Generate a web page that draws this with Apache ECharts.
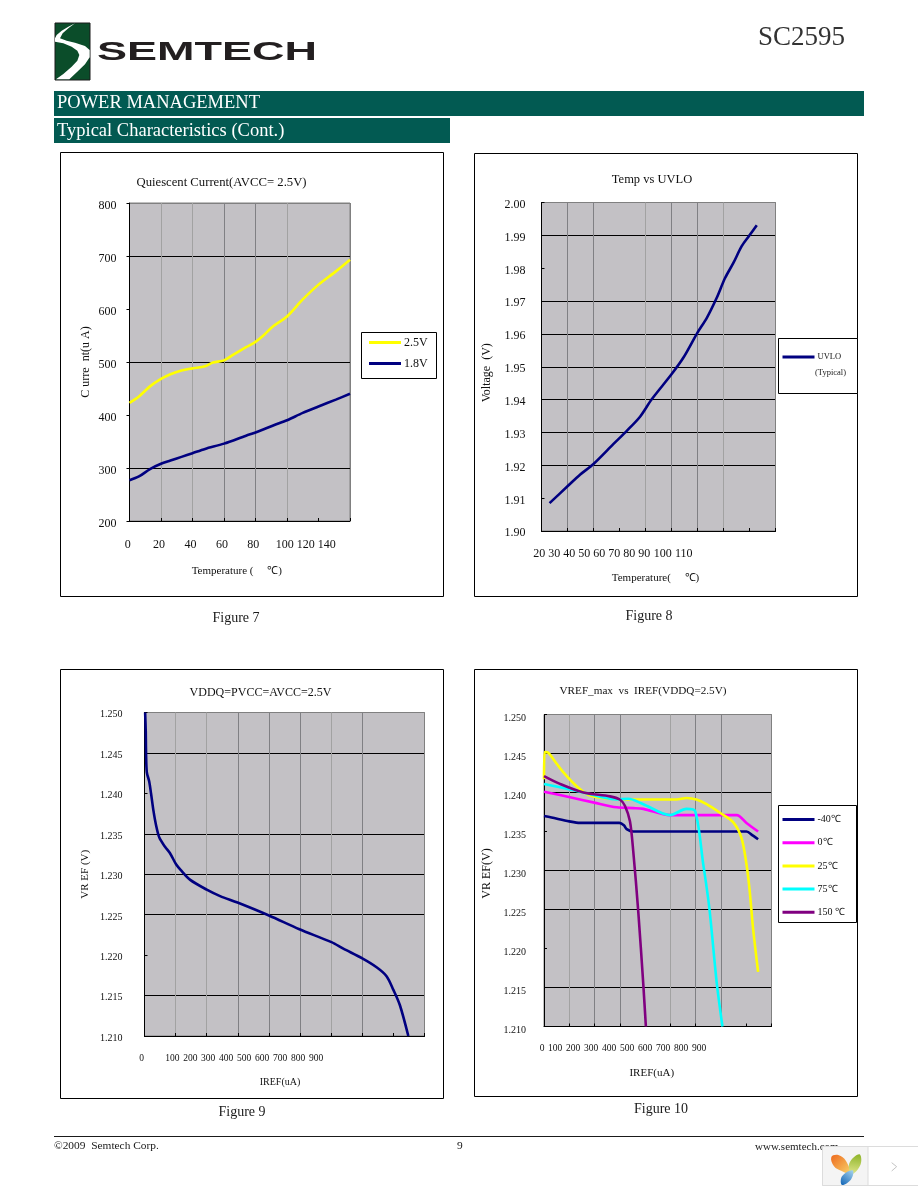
<!DOCTYPE html>
<html><head><meta charset="utf-8">
<style>html,body{margin:0;padding:0;background:#fff}#c{width:918px;height:1188px}</style>
<script src="https://cdn.jsdelivr.net/npm/echarts@6/dist/echarts.min.js"></script>
</head><body><div id="c"></div>
<script>
// ---- Figure 7 ----
const fig7Labels = ['0','20','40','60','80','100'];
const fig7LabelsTail = ['120','140'];
const fig7Yellow = [[0,423],[6,435],[13,454],[20,468],[26,477],[33,484],[40,488],[48,492],[53,499],[60,503],[66,514],[74,528],[80,538],[85,550],[91,567],[100,586],[110,618],[120,646],[131,671],[140,693]];
const fig7Navy = [[0,277],[6,284],[13,298],[20,308],[26,314],[33,321],[40,328],[48,336],[60,346],[74,361],[80,367],[92,381],[100,390],[110,404],[120,416],[131,429],[140,440]];
// ---- Figure 8 ----
const fig8Labels = ['20','30','40','50','60','70','80','90'];
const fig8LabelsTail = ['100','110'];
const fig8Uvlo = [[23.1,1.9085],[30,1.9136],[34.9,1.9172],[40,1.9204],[47.7,1.9265],[52.8,1.9305],[57.9,1.9348],[62.4,1.9401],[70,1.9477],[74.6,1.9528],[80,1.9604],[83.6,1.9649],[87.4,1.971],[90.6,1.977],[93.8,1.9816],[97,1.9867],[100,1.99],[102.8,1.9931]];
// ---- Figure 9 ----
const fig9LabelZero = ['0'];
const fig9Labels = ['100','200','300','400','500','600','700','800','900'];
const fig9Vref = [[2,1.25],[4,1.2477],[5,1.245],[7.5,1.2426],[15,1.2415],[21,1.24],[29,1.2378],[37,1.2361],[48,1.2345],[66,1.2334],[82,1.2326],[102,1.2312],[117,1.2305],[147,1.2293],[200,1.2281],[243,1.2273],[299,1.2265],[400,1.2249],[498,1.2232],[601,1.2216],[639,1.2208],[700,1.2196],[746,1.2185],[778,1.2174],[800,1.2157],[821,1.2138],[848,1.21]];
// ---- Figure 10 ----
const fig10LabelZero = ['0'];
const fig10Labels = ['100','200','300','400','500','600','700','800','900'];
const fig10M40 = [[0,1.237],[30,1.2368],[100,1.2363],[142,1.2361],[298,1.2361],[316,1.2358],[327,1.2353],[353,1.235],[801,1.235],[825,1.2345],[847,1.234]];
const fig10C0 = [[0,1.2401],[103,1.2394],[199,1.2387],[288,1.2381],[353,1.238],[393,1.2379],[498,1.2371],[551,1.2371],[762,1.2371],[801,1.2361],[847,1.235]];
const fig10C25 = [[0,1.2417],[2,1.2452],[17,1.2451],[43,1.244],[76,1.2426],[129,1.2408],[182,1.2396],[261,1.2392],[340,1.2391],[524,1.2391],[564,1.2393],[603,1.2391],[643,1.2385],[696,1.2374],[748,1.2362],[781,1.2342],[801,1.2308],[814,1.2273],[827,1.2226],[847,1.217]];
const fig10C75 = [[0,1.2411],[103,1.2404],[156,1.24],[287,1.2391],[333,1.2392],[393,1.2385],[498,1.2371],[564,1.2379],[598,1.2376],[630,1.2308],[654,1.2252],[683,1.2157],[706,1.21]];
const fig10C150 = [[0,1.2421],[63,1.2411],[156,1.24],[261,1.2395],[300,1.2391],[320,1.2383],[340,1.2363],[353,1.2325],[373,1.2247],[393,1.2153],[403,1.21]];

const SERIF = '"Liberation Serif","Times New Roman",serif';
const INK = '#111';
const BLACK = '#000', NONE = 'transparent', EDGE = '#808080', LIGHT = '#a2a2a2', DARK = '#808084';
const PLOT = '#c3c1c5';

const grids = [], xAxes = [], yAxes = [], series = [], titles = [], legends = [];

function labelAxis(labels, x0, x1, y, size) {
  const single = labels.length === 1;
  const g = grids.length;
  grids.push(single ? {left:x0-10, width:20, top:y, height:1} : {left:x0, width:x1-x0, top:y, height:1});
  xAxes.push({type:'category', gridIndex:g, data:labels, boundaryGap:single,
    axisLine:{show:false}, axisTick:{show:false}, splitLine:{show:false},
    axisLabel:{interval:0, margin:0, verticalAlign:'middle', hideOverlap:false, showMinLabel:true, showMaxLabel:true,
      fontFamily:SERIF, fontSize:size, color:INK}});
  yAxes.push({type:'value', gridIndex:g, show:false, min:0, max:1});
}

function plot(o) {
  const g = grids.length;
  grids.push({left:o.l, top:o.t, width:o.r-o.l, height:o.b-o.t, show:true, backgroundColor:PLOT, borderColor:EDGE, borderWidth:1});
  xAxes.push({type:'value', gridIndex:g, min:o.x[0], max:o.x[1], interval:o.x[2],
    axisLine:{onZero:false, lineStyle:{color:BLACK}},
    axisTick:{inside:true, length:3, lineStyle:{color:BLACK}},
    axisLabel:{show:false},
    splitLine:{show:true, lineStyle:{color:o.vc, width:1}},
    name:o.xName, nameLocation:'middle', nameGap:o.xGap,
    nameTextStyle:{fontFamily:SERIF, fontSize:o.xNameSize, color:INK, padding:o.xPad||0}});
  yAxes.push({type:'value', gridIndex:g, min:o.y[0], max:o.y[1], interval:o.y[2],
    axisLine:{onZero:false, lineStyle:{color:BLACK}},
    axisTick:{inside:!o.yOut, length:3, lineStyle:{color:BLACK}},
    axisLabel:{margin:o.yMargin, fontFamily:SERIF, fontSize:o.ySize, color:INK, verticalAlign:'top', lineHeight:o.yLH,
      formatter:v=>v.toFixed(o.y[3]), showMinLabel:true, showMaxLabel:true},
    splitLine:{show:true, lineStyle:{color:o.hc, width:1}},
    name:o.yName, nameLocation:'middle', nameGap:o.yGap, nameRotate:90,
    nameTextStyle:{fontFamily:SERIF, fontSize:o.yNameSize, color:INK, padding:o.yPad||0}});
  o.lines.forEach(s=>series.push({type:'line', name:s.name, xAxisIndex:g, yAxisIndex:g, data:s.data,
    showSymbol:false, smooth:0.3, clip:false, color:s.color,
    lineStyle:{color:s.color, width:2.6}, itemStyle:{color:s.color}, silent:true, animation:false}));
  titles.push({text:o.title, left:o.titleX, top:o.titleY, textAlign:'center', textVerticalAlign:'middle',
    padding:0, textStyle:{fontFamily:SERIF, fontSize:o.titleSize, fontWeight:'normal', color:INK}});
}

plot({l:129.5,r:350,t:203,b:521, x:[0,140,20], y:[200,800,100,0],
  vc:[NONE,LIGHT,LIGHT,DARK,DARK,LIGHT,NONE,EDGE], hc:[BLACK,BLACK,NONE,BLACK,NONE,BLACK,EDGE],
  yOut:true, yMargin:13, ySize:12, yLH:5, xNameSize:11, yNameSize:12, xName:'Temperature (     ℃)', xGap:45, xPad:[0,6,0,0],
  yName:'C urre  nt(u A)', yGap:38,
  title:'Quiescent Current(AVCC= 2.5V)', titleSize:12.7, titleX:221.5, titleY:182.5,
  lines:[{name:'2.5V',data:fig7Yellow,color:'#ffff00'},{name:'1.8V',data:fig7Navy,color:'#000080'}]});
labelAxis(fig7Labels,127.7,284.7,543.5,12);
labelAxis(fig7LabelsTail,305.7,326.7,543.5,12);

plot({l:541.5,r:775.5,t:202.5,b:531, x:[20,110,10], y:[1.9,2.0,0.01,2],
  vc:[NONE,DARK,DARK,NONE,LIGHT,DARK,DARK,LIGHT,NONE,EDGE], hc:[BLACK,NONE,BLACK,BLACK,BLACK,BLACK,BLACK,BLACK,NONE,BLACK,EDGE],
  yMargin:16, ySize:12, yLH:4.5, xNameSize:11, yNameSize:12, xName:'Temperature(     ℃)', xGap:42, xPad:[0,6,0,0],
  yName:'Voltage  (V)', yGap:49, yPad:[0,12,0,0],
  title:'Temp vs UVLO', titleSize:12.5, titleX:652, titleY:179.5,
  lines:[{name:'UVLO',data:fig8Uvlo,color:'#000080'}]});
labelAxis(fig8Labels,539.3,644.3,552.5,12);
labelAxis(fig8LabelsTail,662.7,683.7,552.5,12);

plot({l:144.5,r:424.5,t:712.5,b:1036, x:[0,900,100], y:[1.21,1.25,0.005,3],
  vc:[NONE,LIGHT,LIGHT,DARK,DARK,DARK,LIGHT,DARK,NONE,EDGE], hc:[BLACK,BLACK,NONE,BLACK,BLACK,BLACK,NONE,BLACK,EDGE],
  yMargin:22, ySize:10, yLH:4.5, xNameSize:10, yNameSize:11, xName:'IREF(uA)', xGap:41, xPad:[0,9,0,0],
  yName:'VR EF (V)', yGap:54,
  title:'VDDQ=PVCC=AVCC=2.5V', titleSize:12, titleX:260.5, titleY:693,
  lines:[{name:'VREF',data:fig9Vref,color:'#000080'}]});
labelAxis(fig9LabelZero,141.7,141.7,1057,9.5);
labelAxis(fig9Labels,172.3,316,1057,9.5);

plot({l:544,r:771.5,t:714.5,b:1026.5, x:[0,900,100], y:[1.21,1.25,0.005,3],
  vc:[NONE,LIGHT,DARK,DARK,NONE,LIGHT,DARK,DARK,NONE,EDGE], hc:[BLACK,BLACK,NONE,BLACK,BLACK,NONE,BLACK,BLACK,EDGE],
  yMargin:18, ySize:10, yLH:7, xNameSize:11, yNameSize:12, xName:'IREF(uA)', xGap:41.5, xPad:[0,12,0,0],
  yName:'VR EF(V)', yGap:51, yPad:[0,6,0,0],
  title:'VREF_max  vs  IREF(VDDQ=2.5V)', titleSize:11.2, titleX:643, titleY:691,
  lines:[{name:'-40℃',data:fig10M40,color:'#000080'},{name:'0℃',data:fig10C0,color:'#ff00ff'},
         {name:'25℃',data:fig10C25,color:'#ffff00'},{name:'75℃',data:fig10C75,color:'#00ffff'},
         {name:'150 ℃',data:fig10C150,color:'#800080'}]});
labelAxis(fig10LabelZero,542,542,1047,9.5);
labelAxis(fig10Labels,555,699,1047,9.5);

function legendBox(names, left, top, pad, gap, size) {
  legends.push({data:names, orient:'vertical', left:left, top:top, align:'left',
    padding:pad, itemGap:gap,
    itemWidth:32, itemHeight:3, icon:'rect', selectedMode:false,
    textStyle:{fontFamily:SERIF, fontSize:size, color:INK, padding:[0,0,0,-2]}});
}
legendBox(['2.5V','1.8V'],361.5,332.5,[4,0,4,7.5],9,12);
legendBox(['UVLO'],778.5,338.5,[14,0,30,4],6,8.5);
legendBox(['-40℃','0℃','25℃','75℃','150 ℃'],778.5,805.5,[9,0,8,4],13.2,10);

const frame = (x0,y0,x1,y1)=>({type:'rect', shape:{x:x0,y:y0,width:x1-x0,height:y1-y0}, z:-10, style:{fill:'#fff',stroke:'#000',lineWidth:1}});
const txt = (t,x,y,size,extra)=>({type:'text', x:x, y:y, z:5, style:Object.assign({text:t, fontFamily:SERIF, fontSize:size, fill:'#1a1a1a', textVerticalAlign:'middle', textAlign:'left'}, extra||{})});

const leafGrad = (c0,c1,x0,y0,x1,y1)=>({type:'linear',x:x0,y:y0,x2:x1,y2:y1,colorStops:[{offset:0,color:c0},{offset:1,color:c1}]});
const z3 = {x:810,y:1135,scaleX:1/3,scaleY:1/3};
const swoosh = [[225,70],[205,80],[185,92],[170,105],[165,115],[165,125],[190,130],[215,140],[232,152],[238,165],[232,182],[215,200],[190,222],[168,238],[208,238],[235,212],[255,193],[269,172],[269,150],[255,138],[225,128],[200,122],[180,115],[188,100],[205,85]];

const graphics = [
  // logo
  {type:'rect', shape:{x:55,y:23,width:35,height:57}, style:{fill:'#0b4d2a',stroke:'#1a1a1a',lineWidth:1}},
  {type:'polygon', x:0,y:0,scaleX:1/3,scaleY:1/3, shape:{points:swoosh}, style:{fill:'#fff'}},
  {type:'text', x:97,y:52.5, scaleX:1.73, style:{text:'SEMTECH', fontFamily:'"Liberation Sans",Arial,sans-serif', fontWeight:'bold', fontSize:26, fill:'#231f20', textVerticalAlign:'middle'}},
  txt('SC2595',758,38,27,{fill:'#333'}),
  // bands
  {type:'rect', shape:{x:54,y:91,width:810,height:25}, style:{fill:'#025a52'}},
  {type:'rect', shape:{x:54,y:118,width:396,height:25}, style:{fill:'#025a52'}},
  txt('POWER MANAGEMENT',57,103.5,18.5,{fill:'#fff'}),
  txt('Typical Characteristics (Cont.)',57,131,18.5,{fill:'#fff'}),
  // frames
  frame(60.5,152.5,443.5,596.5), frame(474.5,153.5,857.5,596.5), frame(60.5,669.5,443.5,1098.5), frame(474.5,669.5,857.5,1096.5),
  // legend boxes
  frame(361.5,332.5,436.5,378.5), frame(778.5,338.5,857.5,393.5), frame(778.5,805.5,856.5,922.5),
  // captions
  txt('Figure 7',236,618.5,14,{textAlign:'center'}),
  txt('Figure 8',649,616.5,14,{textAlign:'center'}),
  txt('Figure 9',242,1112,14,{textAlign:'center'}),
  txt('Figure 10',661,1109,14,{textAlign:'center'}),
  txt('(Typical)',815,373,8.5),
  // footer
  {type:'line', shape:{x1:54,y1:1136.5,x2:864,y2:1136.5}, style:{stroke:'#1a1a1a',lineWidth:1}},
  txt('©2009  Semtech Corp.',54,1146,11.4),
  txt('9',457,1146.5,11.4),
  txt('www.semtech.com',755,1147,11),
  // page widget
  {type:'rect', z:8, shape:{x:822.5,y:1146.5,width:96,height:39}, style:{fill:'#fff',stroke:'#dcdcdc',lineWidth:1}},
  {type:'rect', z:8, shape:{x:822.5,y:1146.5,width:45.5,height:39}, style:{fill:'#f4f4f4',stroke:'#dcdcdc',lineWidth:1}},
  Object.assign({type:'polygon', z:9, shape:{points:[[64,66],[85,60],[108,78],[120,116],[95,108],[72,94]],smooth:0.4}, style:{fill:leafGrad('#ee6a1e','#f8d36b',0,0,1,1)}},z3),
  Object.assign({type:'polygon', z:9, shape:{points:[[148,58],[152,88],[125,118],[118,85]],smooth:0.4}, style:{fill:leafGrad('#8fb52a','#dfe58a',0.6,0,0.4,1)}},z3),
  Object.assign({type:'polygon', z:9, shape:{points:[[96,150],[96,124],[128,106],[124,132]],smooth:0.4}, style:{fill:leafGrad('#0f63b5','#a8d4ee',0,1,1,0)}},z3),
  Object.assign({type:'polyline', z:9, shape:{points:[[245,83],[260,95],[245,108]]}, style:{fill:'none',stroke:'#c4c4c4',lineWidth:3}},z3)
];

const chart = echarts.init(document.getElementById('c'), null, {renderer:'canvas'});
chart.setOption({
  animation:false, backgroundColor:'#fff',
  title:titles, grid:grids, xAxis:xAxes, yAxis:yAxes, series:series, legend:legends,
  graphic:{elements:graphics}
});
</script></body></html>
